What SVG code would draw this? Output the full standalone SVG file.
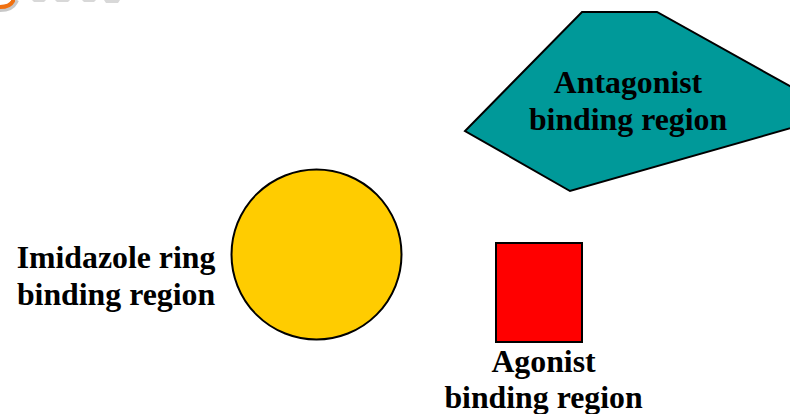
<svg xmlns="http://www.w3.org/2000/svg" width="790" height="414" viewBox="0 0 790 414">
<style>
.lbl{font-family:"Liberation Serif","Times New Roman",serif;font-weight:bold;font-size:31.8px;fill:#000;text-anchor:middle}
.shape{stroke:#000;stroke-width:2}
</style>
<rect width="790" height="414" fill="#fff"/>
<g id="logo-fragment">
<path d="M0,10 Q12,10 16,2 L17,0" fill="none" stroke="#c8c8c8" stroke-width="4"/>
<path d="M0,7 Q10,7 13,1 L13,0" fill="none" stroke="#f07010" stroke-width="4"/>
<path d="M32,0 L46,0 L44,2 L34,2 Z M55,0 L70,0 L68,2 L57,2 Z M82,0 L96,0 L94,2 L84,2 Z M104,0 L120,0 L118,3 L106,3 Z" fill="#d8d8d8"/>
</g>
<g id="antagonist">
<polygon class="shape" points="582,12 657,12 840,114 570,191 465,131" fill="#009999"/>
<text class="lbl" x="628" y="93">Antagonist</text>
<text class="lbl" x="628" y="130">binding region</text>
</g>
<g id="imidazole">
<circle class="shape" cx="316.5" cy="254.5" r="85" fill="#ffcc00"/>
<text class="lbl" x="116" y="268">Imidazole ring</text>
<text class="lbl" x="116" y="305">binding region</text>
</g>
<g id="agonist">
<rect class="shape" x="496" y="243" width="86" height="99" fill="#ff0000"/>
<text class="lbl" x="543.5" y="372">Agonist</text>
<text class="lbl" x="543.5" y="408">binding region</text>
</g>
<g id="connectors"/>
</svg>
